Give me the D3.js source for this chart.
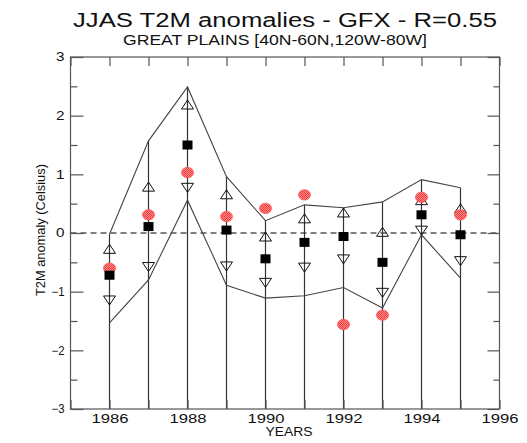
<!DOCTYPE html>
<html>
<head>
<meta charset="utf-8">
<script src="https://cdn.jsdelivr.net/npm/d3@7"></script>
<style>
  html, body { margin: 0; padding: 0; background: #fff; }
  svg { display: block; font-family: "Liberation Sans", Arial, Helvetica, sans-serif; }
</style>
</head>
<body>
<svg id="chart" width="527" height="443"></svg>
<script>
// JJAS 2 m temperature anomalies, Great Plains, 1986-1995
const years      = [1986, 1987, 1988, 1989, 1990, 1991, 1992, 1993, 1994, 1995];
const upperEnv   = [-0.02, 1.57, 2.49, 0.96, 0.21, 0.48, 0.43, 0.53, 0.91, 0.77];
const lowerEnv   = [-1.53, -0.80, 0.56, -0.89, -1.11, -1.07, -0.93, -1.28, -0.03, -0.77];
const upTri      = [-0.27, 0.79, 2.19, 0.66, -0.06, 0.25, 0.35, 0.02, 0.56, 0.42];
const downTri    = [-1.15, -0.58, 0.77, -0.57, -0.85, -0.59, -0.45, -1.02, 0.04, -0.48];
const ensMean    = [-0.72, 0.11, 1.50, 0.05, -0.44, -0.16, -0.06, -0.50, 0.31, -0.03];
const observed   = [-0.60, 0.31, 1.03, 0.28, 0.42, 0.65, -1.56, -1.40, 0.61, 0.31];
const yMajorTicks = [-3, -2, -1, 0, 1, 2, 3];
const yMinorTicks = [-2.5, -1.5, -0.5, 0.5, 1.5, 2.5];
const xTicks      = [1986, 1988, 1990, 1992, 1994, 1996];
const xMinorTicks = [1985, 1986, 1987, 1988, 1989, 1990, 1991, 1992, 1993, 1994, 1995, 1996];

const svg = d3.select("#chart");
const x = d3.scaleLinear().domain([1985, 1996]).range([70.5, 499.5]);
const y = d3.scaleLinear().domain([-3, 3]).range([409, 57]);

const axisColor = "#555";

// dithered red fill for the observed discs
const defs = svg.append("defs");
const pat = defs.append("pattern").attr("id", "redDots")
  .attr("width", 2).attr("height", 2).attr("patternUnits", "userSpaceOnUse");
pat.append("rect").attr("width", 2).attr("height", 2).attr("fill", "#ff8c8c");
pat.append("rect").attr("width", 1).attr("height", 1).attr("fill", "#f03a3a");
pat.append("rect").attr("x", 1).attr("y", 1).attr("width", 1).attr("height", 1).attr("fill", "#f03a3a");

// wide lettering, stretched to the glyph widths of the plotting font
const wideText = (sel, len) => sel.attr("textLength", len).attr("lengthAdjust", "spacingAndGlyphs");

// titles
svg.append("text").attr("x", 285).attr("y", 27).attr("text-anchor", "middle")
  .attr("font-size", 20).attr("fill", "#111").text("JJAS T2M anomalies - GFX - R=0.55")
  .call(wideText, 424);
svg.append("text").attr("x", 275).attr("y", 44.5).attr("text-anchor", "middle")
  .attr("font-size", 15).attr("fill", "#111").text("GREAT PLAINS [40N-60N,120W-80W]")
  .call(wideText, 304);

// zero line
svg.append("line")
  .attr("x1", x(1985)).attr("x2", x(1996)).attr("y1", y(0)).attr("y2", y(0))
  .attr("stroke", "#000").attr("stroke-width", 1).attr("stroke-dasharray", "6,4");

// vertical bars from the upper envelope to the bottom of the frame
svg.append("g").selectAll("line").data(years).join("line")
  .attr("x1", d => x(d)).attr("x2", d => x(d))
  .attr("y1", (d, i) => y(upperEnv[i])).attr("y2", y(-3))
  .attr("stroke", "#333").attr("stroke-width", 1.2);

// envelope lines
const line = d3.line().x((d, i) => x(years[i])).y(d => y(d));
svg.append("path").attr("d", line(upperEnv)).attr("fill", "none").attr("stroke", "#444").attr("stroke-width", 1.1);
svg.append("path").attr("d", line(lowerEnv)).attr("fill", "none").attr("stroke", "#444").attr("stroke-width", 1.1);

// triangles
const tri = (cx, cy, up) => {
  const w = 6, h = 4.5;
  return up
    ? `M${cx - w},${cy + h}L${cx + w},${cy + h}L${cx},${cy - h}Z`
    : `M${cx - w},${cy - h}L${cx + w},${cy - h}L${cx},${cy + h}Z`;
};
svg.append("g").selectAll("path").data(upTri).join("path")
  .attr("d", (d, i) => tri(x(years[i]), y(d), true))
  .attr("fill", "none").attr("stroke", "#111").attr("stroke-width", 1);
svg.append("g").selectAll("path").data(downTri).join("path")
  .attr("d", (d, i) => tri(x(years[i]), y(d), false))
  .attr("fill", "none").attr("stroke", "#111").attr("stroke-width", 1);

// observed values (red discs)
svg.append("g").selectAll("ellipse").data(observed).join("ellipse")
  .attr("cx", (d, i) => x(years[i])).attr("cy", d => y(d))
  .attr("rx", 6).attr("ry", 5.2)
  .attr("fill", "url(#redDots)").attr("stroke", "#f55").attr("stroke-width", 0.8);

// ensemble mean (black squares)
svg.append("g").selectAll("rect").data(ensMean).join("rect")
  .attr("x", (d, i) => x(years[i]) - 5).attr("y", d => y(d) - 4.5)
  .attr("width", 10).attr("height", 9).attr("fill", "#000");

// frame
svg.append("rect").attr("x", x(1985)).attr("y", y(3))
  .attr("width", x(1996) - x(1985)).attr("height", y(-3) - y(3))
  .attr("fill", "none").attr("stroke", axisColor).attr("stroke-width", 1.2);

// axes with inward ticks
const styleAxis = g => {
  g.select(".domain").remove();
  g.selectAll(".tick line").attr("stroke", axisColor).attr("stroke-width", 1.2);
  g.selectAll(".tick text").attr("fill", "#111").attr("font-size", 12)
    .attr("font-family", "Liberation Sans, Arial, sans-serif");
};
svg.append("g").attr("transform", `translate(${x(1985)},0)`)
  .call(d3.axisLeft(y).tickValues(yMajorTicks).tickSize(-13).tickPadding(6).tickFormat(d3.format("d")))
  .call(styleAxis)
  .call(g => g.selectAll(".tick text").each(function (d) {
    d3.select(this).call(wideText, d < 0 ? 13 : 8.5);
  }));
svg.append("g").attr("transform", `translate(${x(1985)},0)`)
  .call(d3.axisLeft(y).tickValues(yMinorTicks).tickSize(-7).tickFormat(""))
  .call(styleAxis);
svg.append("g").attr("transform", `translate(${x(1996)},0)`)
  .call(d3.axisRight(y).tickValues(yMajorTicks).tickSize(-12).tickFormat(""))
  .call(styleAxis);
svg.append("g").attr("transform", `translate(${x(1996)},0)`)
  .call(d3.axisRight(y).tickValues(yMinorTicks).tickSize(-6).tickFormat(""))
  .call(styleAxis);
svg.append("g").attr("transform", `translate(0,${y(3)})`)
  .call(d3.axisTop(x).tickValues(xMinorTicks).tickSize(-9).tickFormat(""))
  .call(styleAxis);
svg.append("g").attr("transform", `translate(0,${y(-3)})`)
  .call(d3.axisBottom(x).tickValues(xMinorTicks).tickSize(-9).tickFormat(""))
  .call(styleAxis);
svg.append("g").attr("transform", `translate(0,${y(-3)})`)
  .call(d3.axisBottom(x).tickValues(xTicks).tickSize(0).tickPadding(5).tickFormat(d3.format("d")))
  .call(styleAxis)
  .call(g => g.selectAll(".tick text").call(wideText, 37));

// axis titles
svg.append("text").attr("x", 289).attr("y", 436).attr("text-anchor", "middle")
  .attr("font-size", 13).attr("fill", "#111").text("YEARS")
  .call(wideText, 47);
svg.append("text").attr("transform", `translate(45,${y(0.05)}) rotate(-90)`)
  .attr("text-anchor", "middle").attr("font-size", 13).attr("fill", "#111")
  .text("T2M anomaly (Celsius)")
  .call(wideText, 132);
</script>
</body>
</html>
